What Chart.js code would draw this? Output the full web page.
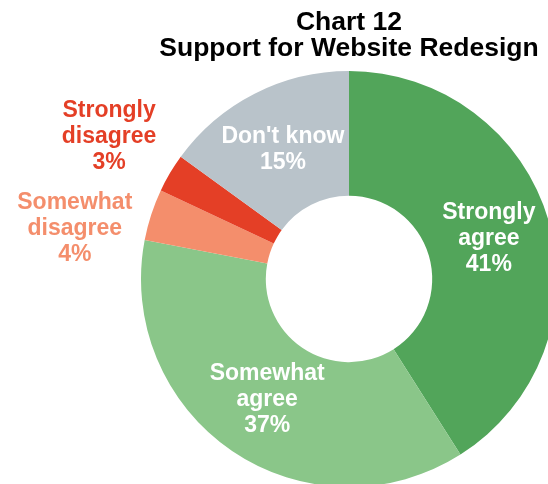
<!DOCTYPE html>
<html>
<head>
<meta charset="utf-8">
<script src="https://cdn.jsdelivr.net/npm/chart.js@4"></script>
<style>
  html, body { margin: 0; padding: 0; background: #fff; overflow: hidden; width: 548px; height: 484px; }
  #supportChart { display: block; }
</style>
</head>
<body>
<canvas id="supportChart" width="600" height="520"></canvas>
<script>
// survey answers, clockwise from 12 o'clock
const categories = ['Strongly\nagree', 'Somewhat\nagree', 'Somewhat\ndisagree', 'Strongly\ndisagree', "Don't know"];
const shares = [41, 37, 4, 3, 15];
const sliceColors = ['#52A55A', '#8AC689', '#F48E6C', '#E43F26', '#B9C3CA'];

const labelFont = 'bold 23px "Liberation Sans", Arial, sans-serif';
const labelLineHeight = 26;

// writes "name / value%" on each slice; small slices get their label outside the ring
const sliceLabels = {
    id: 'sliceLabels',
    afterDatasetsDraw(chart) {
        const ctx = chart.ctx;
        const meta = chart.getDatasetMeta(0);
        const outside = [];

        ctx.save();
        ctx.font = labelFont;
        ctx.textAlign = 'center';
        ctx.textBaseline = 'middle';

        meta.data.forEach((arc, i) => {
            const lines = categories[i].split('\n').concat(shares[i] + '%');
            if (shares[i] >= 10) {
                const pos = arc.tooltipPosition();
                drawLines(ctx, lines, pos.x, pos.y, '#fff');
            } else {
                const p = arc.getProps(['x', 'y', 'startAngle', 'endAngle', 'outerRadius']);
                const mid = (p.startAngle + p.endAngle) / 2;
                const r = p.outerRadius * 1.34;
                outside.push({
                    lines, color: sliceColors[i], cx: p.x, cy: p.y, r,
                    x: p.x + Math.cos(mid) * r,
                    y: p.y + Math.sin(mid) * r
                });
            }
        });

        // keep outside labels from overlapping: slide them down along the circle
        outside.sort((a, b) => a.y - b.y);
        const minGap = 92;
        for (let i = 1; i < outside.length; i++) {
            const prev = outside[i - 1];
            const cur = outside[i];
            if (cur.y < prev.y + minGap) {
                cur.y = prev.y + minGap;
                const dy = cur.y - cur.cy;
                const side = cur.x < cur.cx ? -1 : 1;
                cur.x = cur.cx + side * Math.sqrt(Math.max(cur.r * cur.r - dy * dy, 0));
            }
        }
        outside.forEach(l => drawLines(ctx, l.lines, l.x, l.y, l.color));
        ctx.restore();
    }
};

function drawLines(ctx, lines, x, y, color) {
    ctx.fillStyle = color;
    const top = y - (lines.length - 1) * labelLineHeight / 2;
    lines.forEach((t, k) => ctx.fillText(t, x, top + k * labelLineHeight));
}

const ctx = document.getElementById('supportChart').getContext('2d');
new Chart(ctx, {
    type: 'doughnut',
    data: {
        labels: categories,
        datasets: [{
            data: shares,
            backgroundColor: sliceColors,
            borderWidth: 0
        }]
    },
    options: {
        responsive: false,
        animation: false,
        devicePixelRatio: 1,
        cutout: '40%',
        layout: {
            padding: { left: 141, right: 43, top: 0, bottom: 33 }
        },
        plugins: {
            legend: { display: false },
            tooltip: { enabled: false },
            title: {
                display: true,
                text: ['Chart 12', 'Support for Website Redesign'],
                color: '#000',
                font: { family: '"Liberation Sans", Arial, sans-serif', size: 26.5, weight: 'bold', lineHeight: '26px' },
                padding: { top: 10, bottom: 9 }
            }
        }
    },
    plugins: [sliceLabels]
});
</script>
</body>
</html>
